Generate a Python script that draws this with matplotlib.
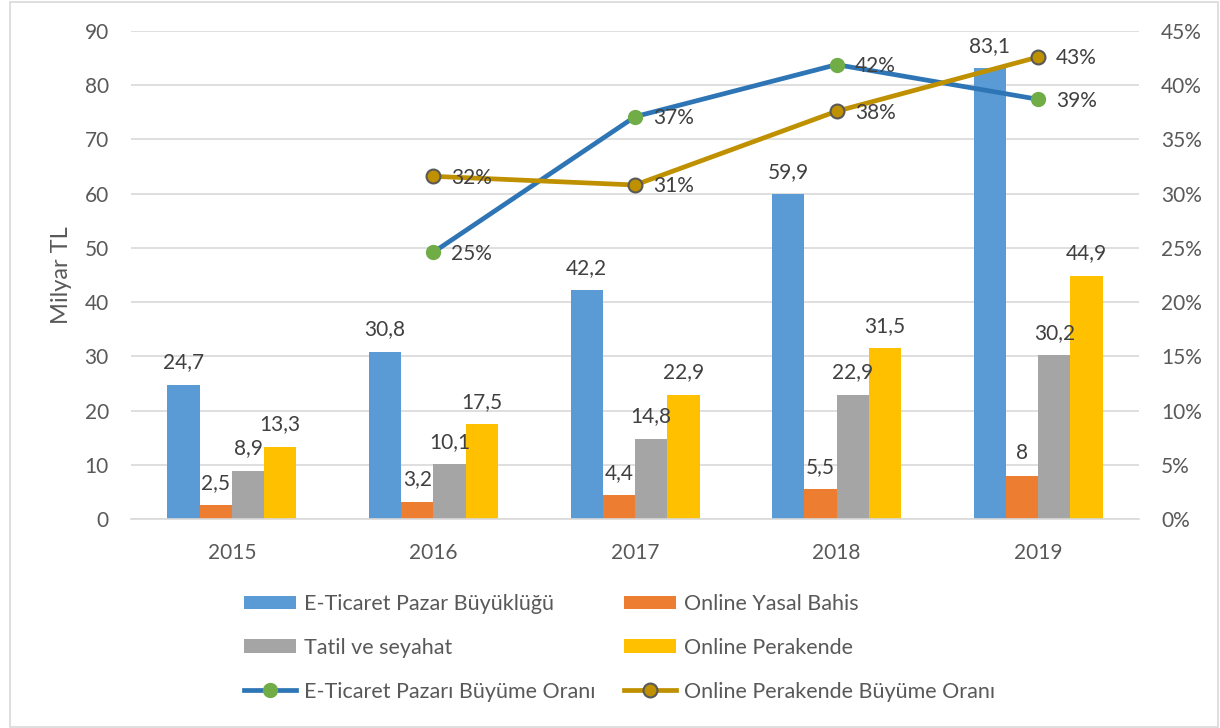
import matplotlib
matplotlib.use("Agg")
import matplotlib.pyplot as plt
import numpy as np
from matplotlib.patches import Rectangle
from matplotlib.ticker import FuncFormatter

plt.rcParams['font.family'] = ['Lato', 'DejaVu Sans']

years = ['2015', '2016', '2017', '2018', '2019']
eticaret = [24.7, 30.8, 42.2, 59.9, 83.1]
bahis = [2.5, 3.2, 4.4, 5.5, 8.0]
tatil = [8.9, 10.1, 14.8, 22.9, 30.2]
perakende = [13.3, 17.5, 22.9, 31.5, 44.9]

# growth rates (%) start from 2016
eticaret_growth = [24.6, 37.1, 41.9, 38.7]
perakende_growth = [31.6, 30.8, 37.6, 42.6]

bar_names = ['E-Ticaret Pazar Büyüklüğü', 'Online Yasal Bahis', 'Tatil ve seyahat', 'Online Perakende']
bar_colors = ['#5B9BD5', '#ED7D31', '#A5A5A5', '#FFC000']
line_names = ['E-Ticaret Pazarı Büyüme Oranı', 'Online Perakende Büyüme Oranı']

txt = '#595959'
lbl = '#404040'
grid = '#D9D9D9'
fs = 15

fig = plt.figure(figsize=(12.2, 7.28), dpi=100)
ax = fig.add_axes([0.1074, 0.2871, 0.8262, 0.6703])

x = np.arange(len(years))
w = 0.16
series = [eticaret, bahis, tatil, perakende]
bars = []
for i, (vals, col) in enumerate(zip(series, bar_colors)):
    pos = x + (i - 1.5) * w
    b = ax.bar(pos, vals, width=w, color=col, zorder=2)
    bars.append(b)
    for px, v in zip(pos, vals):
        ax.annotate(f"{v:g}".replace('.', ','), (px, v), xytext=(0, 9),
                    textcoords='offset points', ha='center', va='bottom',
                    fontsize=fs, color=lbl)

ax.set_xlim(-0.5, len(years) - 0.5)
ax.set_ylim(0, 90)
ax.set_yticks(range(0, 91, 10))
ax.set_xticks(x)
ax.set_xticklabels(years)
ax.yaxis.grid(True, color=grid, linewidth=1.2, zorder=0)
ax.set_axisbelow(True)
for s in ['top', 'right', 'left']:
    ax.spines[s].set_visible(False)
ax.spines['bottom'].set_color(grid)
ax.spines['bottom'].set_linewidth(1.2)
ax.tick_params(axis='y', length=0, pad=16, labelsize=fs, labelcolor=txt)
ax.tick_params(axis='x', length=0, pad=17, labelsize=fs, labelcolor=txt)
fig.text(61 / 1220, 1 - 275 / 728, 'Milyar TL', rotation=90, ha='center', va='center',
         fontsize=17, color=txt)

ax2 = ax.twinx()
ax2.set_ylim(0, 45)
ax2.set_yticks(range(0, 46, 5))
ax2.yaxis.set_major_formatter(FuncFormatter(lambda v, p: f"{v:.0f}%"))
ax2.tick_params(axis='y', length=0, pad=16, labelsize=fs, labelcolor=txt)
for s in ax2.spines.values():
    s.set_visible(False)

lx = x[1:]
l1, = ax2.plot(lx, eticaret_growth, color='#2E75B6', linewidth=3.4, marker='o',
               markersize=10, markerfacecolor='#70AD47', markeredgecolor='#70AD47', zorder=3)
l2, = ax2.plot(lx, perakende_growth, color='#BF9000', linewidth=3.4, marker='o',
               markersize=10, markerfacecolor='#BF9000', markeredgecolor='#595959',
               markeredgewidth=1.5, zorder=3)
for vals in [eticaret_growth, perakende_growth]:
    for px, v in zip(lx, vals):
        ax2.annotate(f"{round(v)}%", (px, v), xytext=(13, -1), textcoords='offset points',
                     ha='left', va='center', fontsize=fs, color=lbl, zorder=4)

handles = [bars[0], bars[2], l1, bars[1], bars[3], l2]
labels = [bar_names[0], bar_names[2], line_names[0], bar_names[1], bar_names[3], line_names[1]]
fig.legend(handles, labels, ncol=2, loc='center', bbox_to_anchor=(0.508, 0.110),
           frameon=False, fontsize=15.5, labelcolor=txt, handlelength=2.4,
           handleheight=0.6, handletextpad=0.4, columnspacing=1.3, labelspacing=1.1)

fig.patches.append(Rectangle((10 / 1220, 1 / 728), 1208 / 1220, 725 / 728,
                             transform=fig.transFigure, fill=False,
                             edgecolor='#D9D9D9', linewidth=1.2))

fig.savefig('out.png', dpi=100)
